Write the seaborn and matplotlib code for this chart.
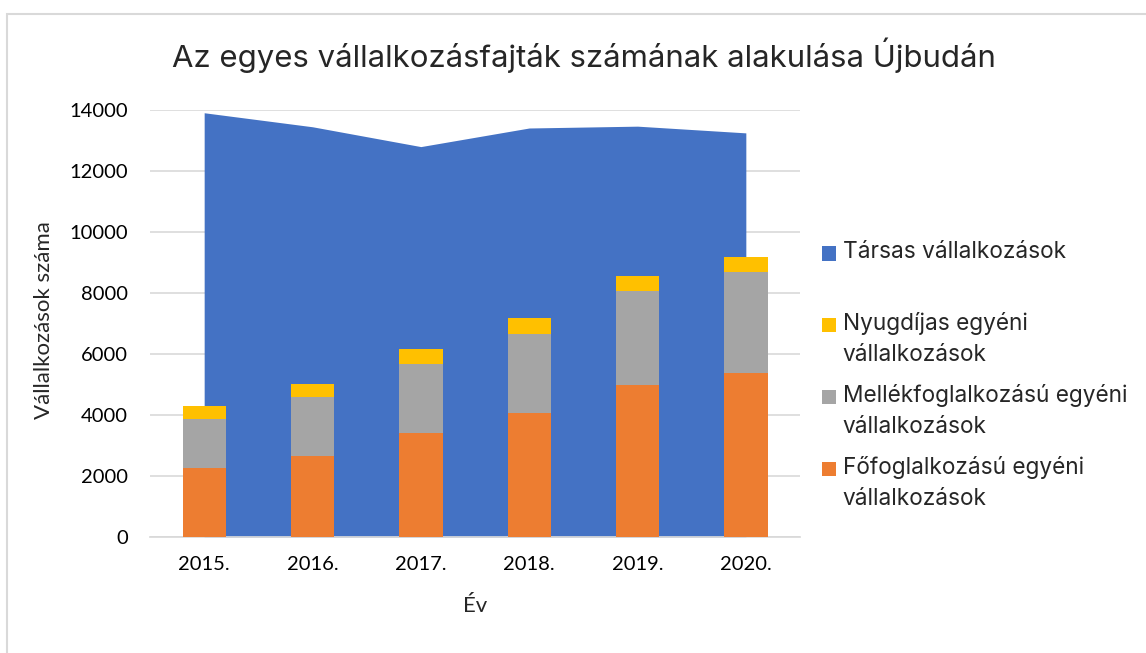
import matplotlib
matplotlib.use("Agg")
import matplotlib.pyplot as plt
import matplotlib.patches as mpatches
from matplotlib.legend_handler import HandlerPatch
import seaborn as sns
import pandas as pd
import numpy as np

# values
years = ["2015.", "2016.", "2017.", "2018.", "2019.", "2020."]
tarsas = [13910, 13450, 12800, 13410, 13470, 13250]
fofoglalkozasu = [2250, 2670, 3410, 4080, 4980, 5390]
mellekfoglalkozasu = [1620, 1920, 2260, 2580, 3090, 3310]
nyugdijas = [430, 420, 480, 510, 500, 490]

# blank second line on the first one keeps every legend slot the same height
labels = ["Társas vállalkozások\n",
          "Nyugdíjas egyéni\nvállalkozások",
          "Mellékfoglalkozású egyéni\nvállalkozások",
          "Főfoglalkozású egyéni\nvállalkozások"]

c_blue = "#4472C4"
c_orange = "#ED7D31"
c_gray = "#A5A5A5"
c_yellow = "#FFC000"

sns.set_theme(style="white")
plt.rcParams["font.family"] = ["Lato", "DejaVu Sans"]

df = pd.DataFrame({"ev": years, "fo": fofoglalkozasu,
                   "mellek": mellekfoglalkozasu, "nyugdij": nyugdijas})
df["cum_mellek"] = df["fo"] + df["mellek"]
df["cum_nyugdij"] = df["cum_mellek"] + df["nyugdij"]

fig = plt.figure(figsize=(11.46, 6.53), dpi=100)
ax = fig.add_axes([150 / 1146, 1 - 537 / 653, 650 / 1146, 427 / 653])

# area behind the bars
x = np.arange(len(years))
ax.fill_between(x, 0, tarsas, color=c_blue, lw=0, zorder=1)

# stacked bars: draw cumulative totals, tallest first
sns.barplot(data=df, x="ev", y="cum_nyugdij", color=c_yellow, width=0.4,
            saturation=1, linewidth=0, ax=ax, zorder=2)
sns.barplot(data=df, x="ev", y="cum_mellek", color=c_gray, width=0.4,
            saturation=1, linewidth=0, ax=ax, zorder=3)
sns.barplot(data=df, x="ev", y="fo", color=c_orange, width=0.4,
            saturation=1, linewidth=0, ax=ax, zorder=4)

ax.set_xlim(-0.5, len(years) - 0.5)
ax.set_ylim(0, 14000)
ax.set_yticks(range(0, 14001, 2000))
ax.yaxis.grid(True, color="#d9d9d9", lw=1.2, zorder=0)
ax.set_axisbelow(True)
for s in ["top", "right", "left"]:
    ax.spines[s].set_visible(False)
ax.spines["bottom"].set_color("#d9d9d9")
ax.tick_params(axis="both", length=0, labelsize=14.5, colors="black")
ax.tick_params(axis="y", pad=16)
ax.tick_params(axis="x", pad=14)
ax.set_xlabel("")
ax.set_ylabel("")

fig.text(475 / 1146, 1 - 606 / 653, "Év", ha="center", va="center", fontsize=16)
fig.text(44 / 1146, 1 - 320 / 653, "Vállalkozások száma", ha="center",
         va="center", rotation=90, fontsize=16)
fig.text(584 / 1146, 1 - 55 / 653,
         "Az egyes vállalkozásfajták számának alakulása Újbudán",
         ha="center", va="center", fontsize=22.4, family=["Inter", "DejaVu Sans"])


class FirstLinePatch(HandlerPatch):
    # square marker lifted to the first text line
    def create_artists(self, legend, orig_handle, xdescent, ydescent,
                       width, height, fontsize, trans):
        p = mpatches.Rectangle((-xdescent, -ydescent + 0.66 * fontsize), width, height,
                               facecolor=orig_handle.get_facecolor(), lw=0,
                               transform=trans)
        return [p]


handles = [mpatches.Patch(color=c) for c in [c_blue, c_yellow, c_gray, c_orange]]
leg = fig.legend(handles, labels, loc="upper left",
                 bbox_to_anchor=(822 / 1146, 1 - 241 / 653), frameon=False,
                 borderpad=0, borderaxespad=0,
                 handlelength=0.6, handleheight=0.6, handletextpad=0.32,
                 labelspacing=0.77,
                 handler_map={mpatches.Patch: FirstLinePatch()},
                 prop={"family": ["Inter", "DejaVu Sans"], "size": 16.3})
for t in leg.get_texts():
    t.set_linespacing(1.56)

# chart border
fig.patches.append(mpatches.Rectangle((7 / 1146, -0.1), 1.2, 1 - 14 / 653 + 0.1,
                                      transform=fig.transFigure, fill=False,
                                      edgecolor="#d9d9d9", lw=1.5))

fig.savefig("out.png", dpi=100)
